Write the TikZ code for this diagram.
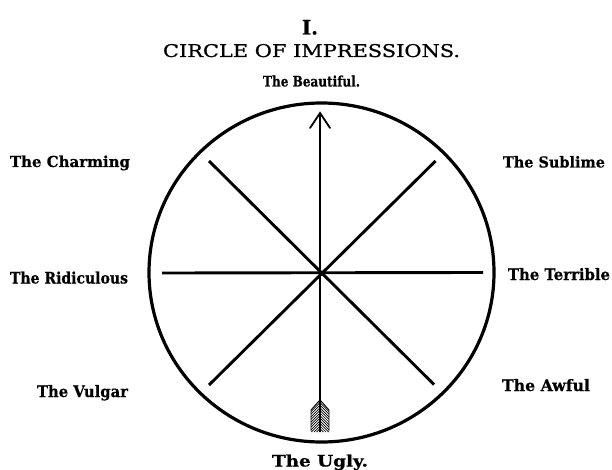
\documentclass[tikz,border=0pt]{standalone}
\usepackage{fontspec}
\setmainfont{DejaVu Serif}
\newfontfamily\titlefont[FakeBold=0.8]{DejaVu Serif}
\newfontfamily\labfont[FakeBold=0.6]{DejaVu Serif Bold}
\usepackage{graphicx}
\newcommand{\lab}[3]{\resizebox{#1pt}{#2pt}{\labfont #3}}
\begin{document}
\begin{tikzpicture}[x=1pt,y=-1pt,
  lbl/.style={anchor=base west,inner sep=0pt,outer sep=0pt},
  spoke/.style={line width=2.9pt},
  rim/.style={line width=3.2pt},
  shaft/.style={line width=2.3pt},
  feather/.style={line width=0.7pt}]
\useasboundingbox (0,0) rectangle (612,470);
% titles
\node[lbl] (num) at (302,34.5) {\lab{16}{14.5}{I.}};
\node[lbl] (title) at (163,57) {\resizebox{297pt}{13pt}{\titlefont CIRCLE OF IMPRESSIONS.}};
% labels
\node[lbl] (beautiful) at (263,86.5) {\lab{97}{11}{The Beautiful.}};
\node[lbl] (charming) at (10,167) {\lab{120}{11.5}{The Charming}};
\node[lbl] (sublime) at (503,167.5) {\lab{102}{11.5}{The Sublime}};
\node[lbl] (ridiculous) at (10,283.5) {\lab{118}{12}{The Ridiculous}};
\node[lbl] (terrible) at (508,280) {\lab{102}{12}{The Terrible}};
\node[lbl] (vulgar) at (37,397) {\lab{91}{12}{The Vulgar}};
\node[lbl] (awful) at (502,391) {\lab{88}{12}{The Awful}};
\node[lbl] (ugly) at (272,466.5) {\lab{96}{12}{The Ugly.}};
% circle
\coordinate (o) at (321.5,272.5);
\draw[rim] (o) ellipse [x radius=172.5pt, y radius=169.5pt];
% spokes
\coordinate (c) at (320,272.7);
\coordinate (w) at (162,273);
\coordinate (e) at (483,272.5);
\coordinate (nw) at (209,161);
\coordinate (ne) at (435.5,161);
\coordinate (sw) at (209,385);
\coordinate (se) at (434,384.5);
\coordinate (tip) at (320,113);
\coordinate (tail) at (320,432);
\draw[spoke] (w) -- (e);
\draw[spoke] (nw) -- (se);
\draw[spoke] (ne) -- (sw);
% arrow shaft and head
\draw[shaft] (tail) -- (tip);
\draw[line width=1.8pt,line cap=round,line join=miter]
  ([xshift=-10pt,yshift=-15pt]tip) -- (tip) -- ([xshift=10pt,yshift=-15pt]tip);
% fletching
\begin{scope}
  \clip (320,400) -- (311,410) -- (311,432) -- (329,432) -- (329,410) -- cycle;
  \foreach \yy in {400,402.6,...,434}{
    \draw[feather] (311,\yy+9) -- (320,\yy) -- (329,\yy+9);
  }
\end{scope}
\draw[line width=0.9pt] (320,400) -- (311,410) -- (311,431);
\draw[line width=0.9pt] (320,400) -- (329,410) -- (329,431);
\draw[shaft] (320,400) -- (tail);
\end{tikzpicture}
\end{document}
